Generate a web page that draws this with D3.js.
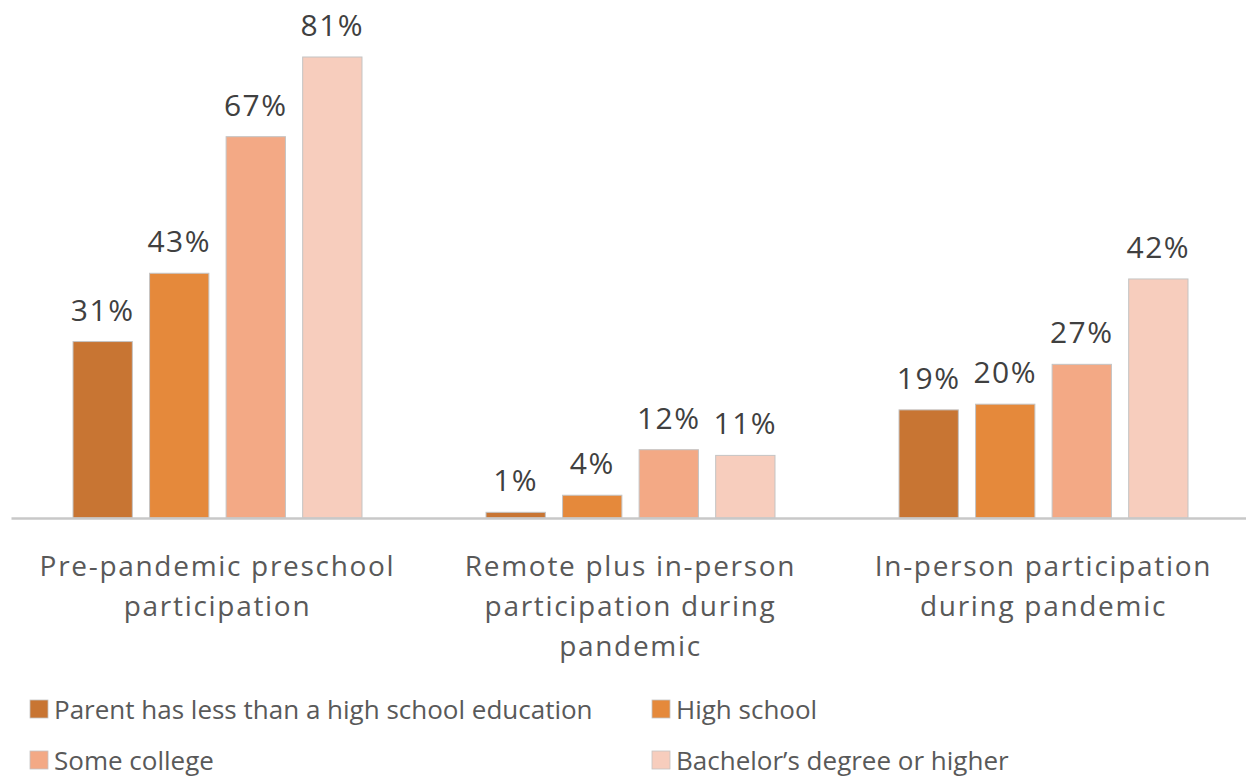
<!DOCTYPE html>
<html><head><meta charset="utf-8">
<script src="https://cdn.jsdelivr.net/npm/d3@7"></script>
<style>html,body{margin:0;padding:0;background:#fff;}svg{display:block;}</style>
</head><body>
<script>
const categories = [
  ["Pre-pandemic preschool", "participation"],
  ["Remote plus in-person", "participation during", "pandemic"],
  ["In-person participation", "during pandemic"]
];
const seriesNames = [
  "Parent has less than a high school education",
  "High school",
  "Some college",
  "Bachelor\u2019s degree or higher"
];
const lessThanHS = [31, 1, 19];
const highSchool = [43, 4, 20];
const someCollege = [67, 12, 27];
const bachelors = [81, 11, 42];
const colors = ["#C87533", "#E5893B", "#F3A985", "#F7CDBD"];

const series = [lessThanHS, highSchool, someCollege, bachelors];
const W = 1246, H = 778;
const svg = d3.select("body").append("svg").attr("width", W).attr("height", H);

const x0 = d3.scaleBand().domain(d3.range(categories.length)).range([11, 1250]).paddingInner(0).paddingOuter(0);
const x1 = d3.scaleBand().domain(d3.range(series.length)).range([0, x0.bandwidth()]).paddingInner(0.225).paddingOuter(0.81);
const y = d3.scaleLinear().domain([0, 81]).range([518, 57]);

const g = svg.append("g");
categories.forEach((c, ci) => {
  series.forEach((s, si) => {
    const v = s[ci];
    const bx = x0(ci) + x1(si);
    g.append("rect")
      .attr("x", bx).attr("y", y(v))
      .attr("width", x1.bandwidth()).attr("height", y(0) - y(v))
      .attr("fill", colors[si]).attr("stroke", "#c4c4c4").attr("stroke-width", 1);
    g.append("text")
      .attr("x", bx + x1.bandwidth() / 2).attr("y", y(v) - 21)
      .attr("text-anchor", "middle")
      .attr("font-family", "Open Sans").attr("font-size", 30)
      .attr("letter-spacing", 1.5)
      .attr("fill", "#404040").text(v + "%");
  });
});

// axis baseline
const xAxis = d3.axisBottom(x0).tickSize(0).tickFormat("");
const ax = svg.append("g").attr("transform", `translate(0,${y(0)})`).call(xAxis);
ax.select(".domain").attr("stroke", "#c8c8c8").attr("stroke-width", 2.5);

// category labels
categories.forEach((lines, ci) => {
  const t = svg.append("text")
    .attr("text-anchor", "middle")
    .attr("font-family", "Open Sans").attr("font-size", 28)
    .attr("letter-spacing", 1.7)
    .attr("fill", "#595959");
  lines.forEach((ln, li) => {
    t.append("tspan").attr("x", x0(ci) + x0.bandwidth() / 2).attr("y", 576 + li * 40).text(ln);
  });
});

// legend
const legendPos = [[30, 710], [652, 710], [30, 761], [652, 761]];
seriesNames.forEach((name, i) => {
  const [lx, ly] = legendPos[i];
  svg.append("rect").attr("x", lx).attr("y", ly - 10).attr("width", 18).attr("height", 18)
    .attr("fill", colors[i]).attr("stroke", "#c4c4c4").attr("stroke-width", 0.8);
  svg.append("text").attr("x", lx + 24).attr("y", ly + 9)
    .attr("font-family", "Open Sans").attr("font-size", 26)
    .attr("letter-spacing", 0)
    .attr("fill", "#595959").text(name);
});
</script>
</body></html>
